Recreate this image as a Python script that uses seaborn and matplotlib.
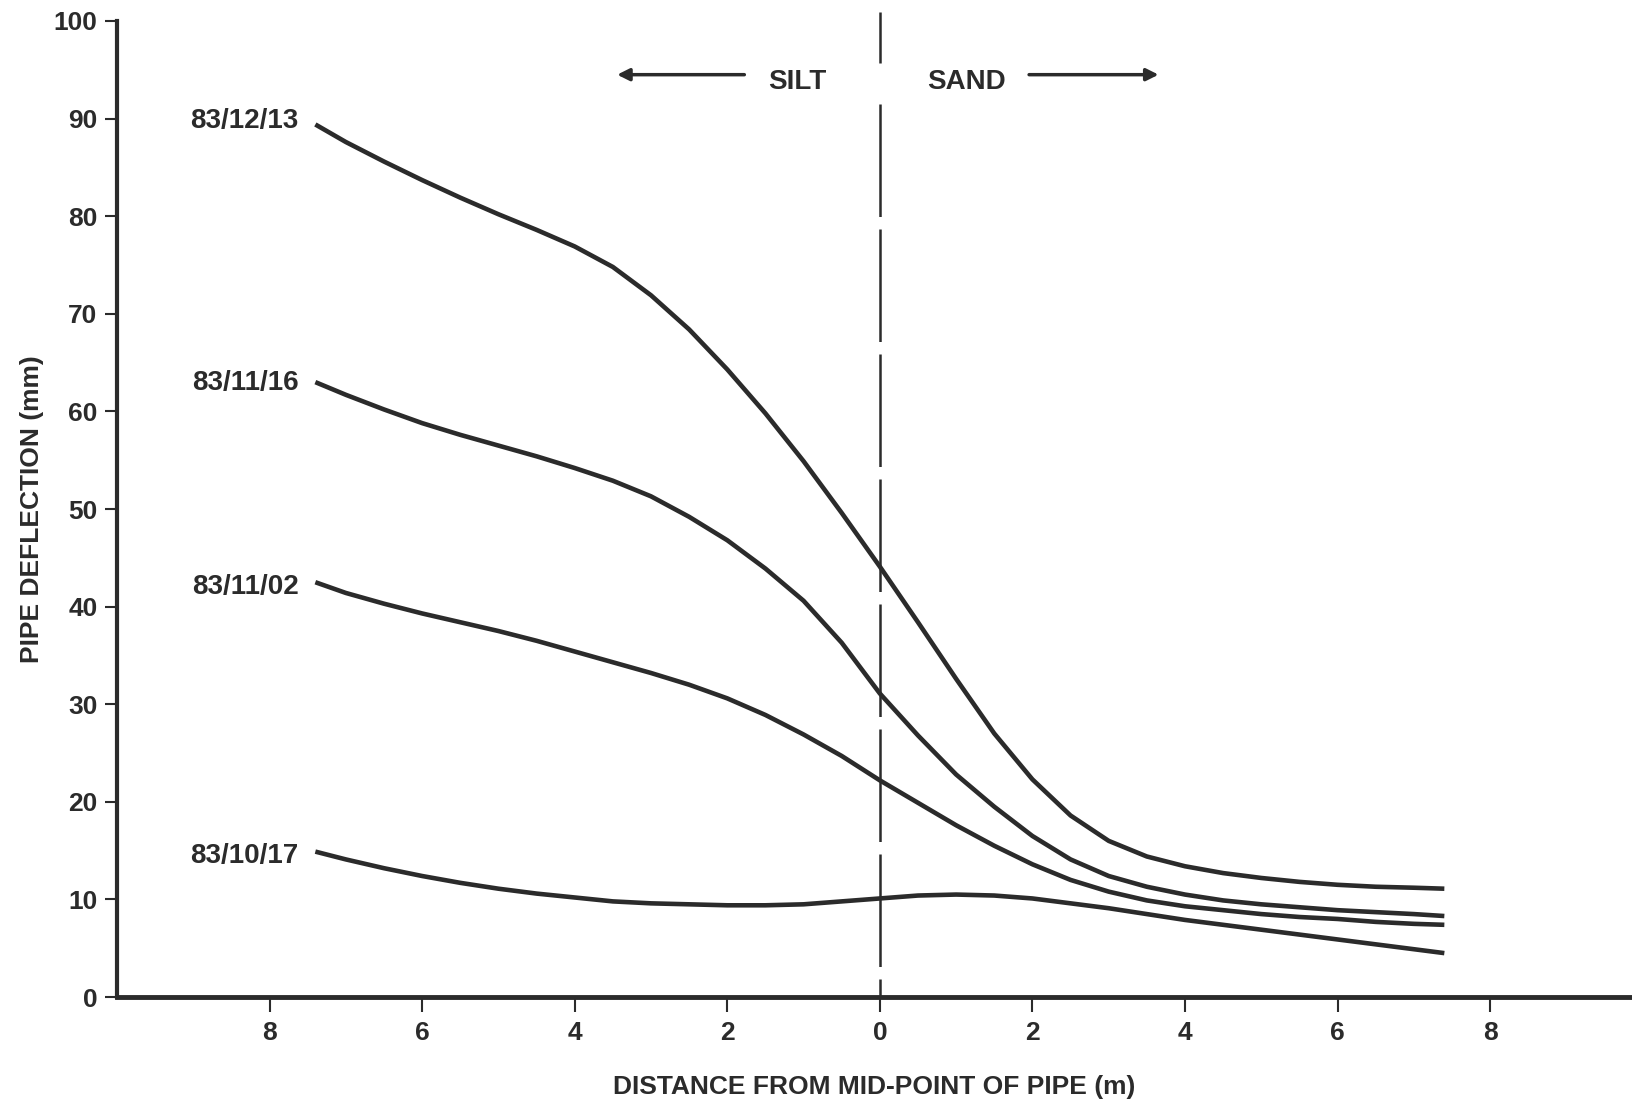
import pandas as pd
import seaborn as sns
import matplotlib.pyplot as plt

# distance along the pipe (m), negative = silt side, positive = sand side
distance = [-7.4, -7, -6.5, -6, -5.5, -5, -4.5, -4, -3.5, -3, -2.5, -2, -1.5, -1, -0.5, 0,
            0.5, 1, 1.5, 2, 2.5, 3, 3.5, 4, 4.5, 5, 5.5, 6, 6.5, 7, 7.4]

# pipe deflection (mm)
defl_831213 = [89.4, 87.6, 85.6, 83.7, 81.9, 80.2, 78.6, 76.9, 74.8, 71.9, 68.4, 64.3, 59.8, 54.9, 49.6, 44.1,
               38.4, 32.6, 27.0, 22.3, 18.6, 16.0, 14.4, 13.4, 12.7, 12.2, 11.8, 11.5, 11.3, 11.2, 11.1]
defl_831116 = [63.0, 61.7, 60.2, 58.8, 57.6, 56.5, 55.4, 54.2, 52.9, 51.3, 49.2, 46.8, 43.9, 40.6, 36.3, 31.1,
               26.8, 22.8, 19.5, 16.5, 14.1, 12.4, 11.3, 10.5, 9.9, 9.5, 9.2, 8.9, 8.7, 8.5, 8.3]
defl_831102 = [42.5, 41.4, 40.3, 39.3, 38.4, 37.5, 36.5, 35.4, 34.3, 33.2, 32.0, 30.6, 28.9, 26.9, 24.7, 22.2,
               19.9, 17.6, 15.5, 13.6, 12.0, 10.8, 9.9, 9.3, 8.9, 8.5, 8.2, 8.0, 7.7, 7.5, 7.4]
defl_831017 = [14.9, 14.1, 13.2, 12.4, 11.7, 11.1, 10.6, 10.2, 9.8, 9.6, 9.5, 9.4, 9.4, 9.5, 9.8, 10.1,
               10.4, 10.5, 10.4, 10.1, 9.6, 9.1, 8.5, 7.9, 7.4, 6.9, 6.4, 5.9, 5.4, 4.9, 4.5]

dates = ['83/12/13', '83/11/16', '83/11/02', '83/10/17']
label_y = [89.8, 62.9, 42.0, 14.5]

xticks = [-8, -6, -4, -2, 0, 2, 4, 6, 8]
xtick_labels = ['8', '6', '4', '2', '0', '2', '4', '6', '8']

series = [defl_831213, defl_831116, defl_831102, defl_831017]
frames = []
for d, vals in zip(dates, series):
    frames.append(pd.DataFrame({'distance': distance, 'deflection': vals, 'date': d}))
df = pd.concat(frames, ignore_index=True)

sns.set_style('ticks')
plt.rcParams['font.family'] = ['Liberation Sans', 'DejaVu Sans']
plt.rcParams['font.weight'] = 'bold'
ink = '#2b2b2b'

fig = plt.figure(figsize=(16.32, 11.05), dpi=100)
ax = fig.add_axes([0.0717, 0.0977, 0.9283, 0.8833])

sns.lineplot(data=df, x='distance', y='deflection', hue='date', hue_order=dates,
             palette=[ink] * 4, linewidth=3.3, legend=False, ax=ax,
             solid_capstyle='butt', solid_joinstyle='round')

# mid-point divider
ax.vlines(0, 91.5, 0, colors=ink, linewidth=1.8, linestyles=(0, (45, 5)))
ax.vlines(0, 95.7, 100.9, colors=ink, linewidth=1.8, clip_on=False)

# curve labels
for d, y in zip(dates, label_y):
    ax.text(-7.62, y, d, ha='right', va='center', fontsize=20, color=ink)

# silt / sand annotations
ax.annotate('', xy=(-3.48, 94.5), xytext=(-1.74, 94.5),
            arrowprops=dict(arrowstyle='-|>', color=ink, lw=2.5, mutation_scale=18))
ax.annotate('', xy=(3.69, 94.5), xytext=(1.92, 94.5),
            arrowprops=dict(arrowstyle='-|>', color=ink, lw=2.5, mutation_scale=18))
ax.text(-1.08, 93.8, 'SILT', ha='center', va='center', fontsize=20, color=ink)
ax.text(1.14, 93.8, 'SAND', ha='center', va='center', fontsize=20, color=ink)

ax.set_xlim(-10, 9.86)
ax.set_ylim(0, 100)
ax.set_xticks(xticks)
ax.set_xticklabels(xtick_labels)
ax.set_yticks(range(0, 101, 10))

ax.tick_params(axis='x', direction='out', length=11, width=1.5, colors=ink,
               labelsize=19, pad=6)
ax.tick_params(axis='y', direction='out', length=9, width=1.5, colors=ink,
               labelsize=19, pad=5)

sns.despine(ax=ax, top=True, right=True)
ax.spines['left'].set_linewidth(3)
ax.spines['bottom'].set_linewidth(3.5)
ax.spines['left'].set_color(ink)
ax.spines['bottom'].set_color(ink)

ax.set_xlabel('DISTANCE FROM MID-POINT OF PIPE (m)', fontsize=19, fontweight='bold',
              color=ink, labelpad=22)
ax.set_ylabel('PIPE DEFLECTION (mm)', fontsize=19, fontweight='bold',
              color=ink, labelpad=7)

fig.savefig('out.png', dpi=100)
